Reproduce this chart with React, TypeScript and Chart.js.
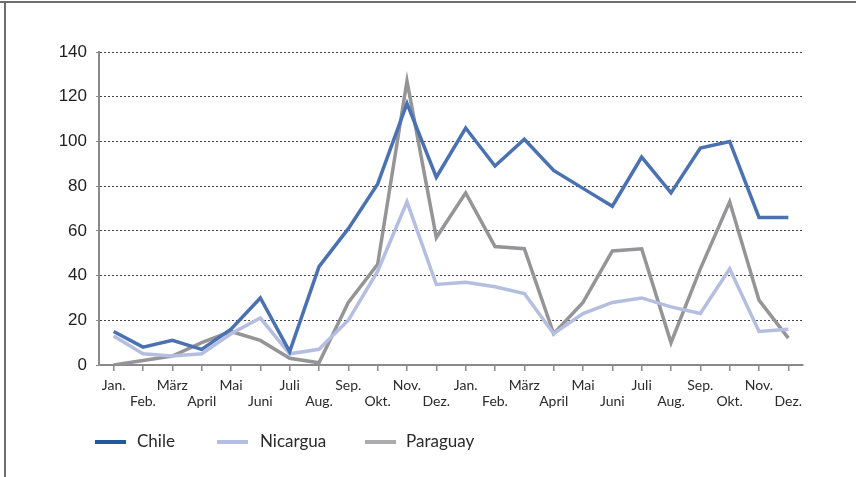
import React, { useEffect, useRef } from "react";
import { Chart, registerables } from "chart.js";

Chart.register(...registerables);

const months = [
  "Jan.", "Feb.", "März", "April", "Mai", "Juni", "Juli", "Aug.", "Sep.", "Okt.", "Nov.", "Dez.",
  "Jan.", "Feb.", "März", "April", "Mai", "Juni", "Juli", "Aug.", "Sep.", "Okt.", "Nov.", "Dez.",
];

const chile = [15, 8, 11, 7, 16, 30, 6, 44, 61, 81, 117, 84, 106, 89, 101, 87, 79, 71, 93, 77, 97, 100, 66, 66];
const nicaragua = [13, 5, 4, 5, 14, 21, 5, 7, 20, 42, 73, 36, 37, 35, 32, 14, 23, 28, 30, 26, 23, 43, 15, 16];
const paraguay = [0, 2, 4, 10, 15, 11, 3, 1, 28, 45, 127, 57, 77, 53, 52, 14, 28, 51, 52, 10, 43, 73, 29, 12];

const yTicks = [0, 20, 40, 60, 80, 100, 120, 140];

const seriesNames = ["Chile", "Nicargua", "Paraguay"];
const lineColors = ["#4a71b1", "#b3bee0", "#959597"];
const legendColors = ["#1f5a9f", "#b3bee0", "#acacae"];

export default function App() {
  const ref = useRef<HTMLCanvasElement>(null);

  useEffect(() => {
    if (!ref.current) return;
    const chart = new Chart(ref.current, {
      type: "line",
      data: {
        labels: months,
        datasets: [chile, nicaragua, paraguay].map((d, i) => ({
          label: seriesNames[i],
          data: d,
          borderColor: lineColors[i],
          backgroundColor: lineColors[i],
          borderWidth: 3.5,
          pointRadius: 0,
          tension: 0,
          fill: false,
        })),
      },
      options: {
        animation: false,
        responsive: false,
        maintainAspectRatio: false,
        layout: { padding: { left: 0, right: 53, top: 52, bottom: 52 } },
        plugins: {
          legend: { display: false },
          tooltip: { enabled: false },
        },
        scales: {
          x: {
            type: "category",
            offset: true,
            grid: {
              offset: false,
              drawOnChartArea: false,
              drawTicks: true,
              tickLength: 6,
              color: "#8a8a8a",
              tickColor: "#8a8a8a",
              lineWidth: 1.5,
            },
            border: { display: true, color: "#8a8a8a", width: 2 },
            ticks: {
              autoSkip: false,
              maxRotation: 0,
              minRotation: 0,
              padding: 6,
              color: "#2a2a2a",
              font: { family: "Lato", size: 14, lineHeight: 1.15 },
              callback: (_v: any, i: number) => (i % 2 === 0 ? [months[i], ""] : ["", months[i]]),
            },
            afterFit: (s: any) => {
              s.height = 60;
            },
          },
          y: {
            min: 0,
            max: 140,
            afterBuildTicks: (s: any) => {
              s.ticks = yTicks.map((v) => ({ value: v }));
            },
            grid: {
              color: "#444444",
              lineWidth: 1,
              tickBorderDash: [],
              tickColor: "#8a8a8a",
              tickLength: 3,
              drawTicks: true,
            },
            border: { display: true, color: "#8a8a8a", width: 2, dash: [2, 2] },
            ticks: {
              padding: 9,
              color: "#1e1e1e",
              font: { family: "Liberation Sans", size: 17 },
            },
            afterFit: (s: any) => {
              s.width = 99;
            },
          },
        },
      },
    });
    return () => chart.destroy();
  }, []);

  const legendPos = [
    { line: 95, text: 137 },
    { line: 217, text: 260 },
    { line: 365, text: 406 },
  ];

  return (
    <div style={{ position: "absolute", left: 0, top: 0, width: 856, height: 477, background: "#fff", overflow: "hidden" }}>
      <div style={{ position: "absolute", left: 0, top: 1, width: 856, height: 2, background: "#6e6e6e" }} />
      <div style={{ position: "absolute", left: 4, top: 1, width: 1.5, height: 476, background: "#6e6e6e" }} />
      <canvas ref={ref} width={856} height={477} style={{ position: "absolute", left: 0, top: 0, width: 856, height: 477 }} />
      {seriesNames.map((n, i) => (
        <React.Fragment key={n}>
          <div style={{ position: "absolute", left: legendPos[i].line, top: 440, width: 31, height: 4, background: legendColors[i] }} />
          <div style={{ position: "absolute", left: legendPos[i].text, top: 431, fontFamily: "Lato", fontSize: 17, lineHeight: "20px", color: "#2a2a2a", whiteSpace: "nowrap" }}>
            {n}
          </div>
        </React.Fragment>
      ))}
    </div>
  );
}
